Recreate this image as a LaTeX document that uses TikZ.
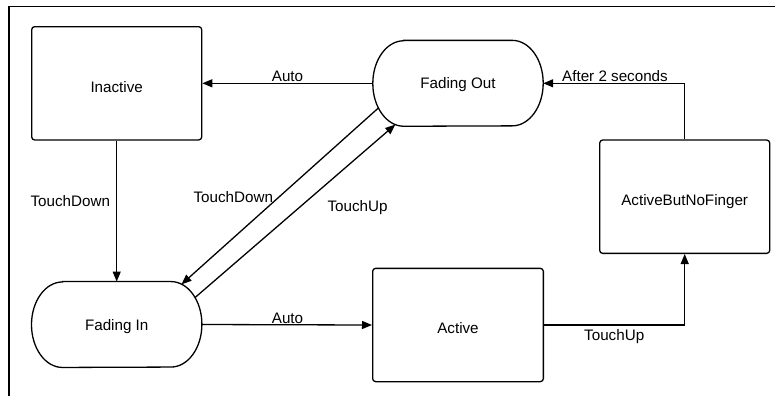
\documentclass[tikz,border=0pt]{standalone}
\usepackage{fontspec}
\setmainfont{Liberation Sans}
\usetikzlibrary{arrows.meta,calc}

\tikzset{
  line/.style={line width=1.3bp, draw=black},
  arr/.style={line, -{Triangle[length=10bp,width=8bp]}},
  statebox/.style={line, rectangle, rounded corners=3bp, minimum width=170bp,
    minimum height=113.3bp, inner sep=0pt, text height=17.6bp, text depth=0pt},
  termbox/.style={rectangle, draw=none, minimum width=170bp, minimum height=85.5bp,
    inner sep=0pt, text height=11bp, text depth=0pt},
  lbl/.style={anchor=base, inner sep=0pt},
}

% outline of a terminator: straight top and bottom, half-elliptical ends
\newcommand{\terminator}[1]{%
  \draw[line] ([xshift=31bp]#1.north west) -- ([xshift=-31bp]#1.north east)
    arc[start angle=90, end angle=-90, x radius=31bp, y radius=42.75bp]
    -- ([xshift=31bp]#1.south west)
    arc[start angle=270, end angle=90, x radius=31bp, y radius=42.75bp] -- cycle;}

\begin{document}
\begin{tikzpicture}[x=1bp, y=-1bp, font=\fontsize{15.2bp}{18bp}\selectfont]
\useasboundingbox (0,0) rectangle (775,396);

% frame
\draw[line] (9,396) -- (9,6.7) -- (775,6.7);

% states
\node[statebox] (inactive) at (116.7,83.3) {Inactive};
\node[termbox] (fout) at (458,83.3) {Fading Out};
\node[statebox] (abnf) at (684.7,196.7) {ActiveButNoFinger};
\node[termbox] (fin) at (116.7,324.5) {Fading In};
\node[statebox, minimum width=170.7bp] (active) at (458,325) {Active};
\terminator{fout}
\terminator{fin}

% ellipse centres of the rounded ends used by the slanted transitions
\coordinate (finR) at ([xshift=-31bp]fin.east);
\coordinate (foutL) at ([xshift=31bp]fout.west);

% transitions
\draw[arr] (fout.west) -- (inactive.east);
\draw[arr] (inactive.south) -- (fin.north -| inactive.south);
\draw[arr] (fin.east) -- (active.west);
\draw[arr] (active.east) -| (abnf.south);
\draw[arr] (abnf.north) |- (fout.east);
\draw[arr] ($(foutL)+(215:31bp and 43bp)$) -- ($(finR)+(70:31bp and 42.75bp)$);
\draw[arr] ($(finR)+(39:31bp and 42.75bp)$) -- ($(foutL)+(254:31bp and 43bp)$);

% labels
\node[lbl] (lAuto1) at (287.5,81.5) {Auto};
\node[lbl] (lAfter) at (615,81.5) {After 2 seconds};
\node[lbl] (lTD1) at (70.3,206.5) {TouchDown};
\node[lbl] (lTD2) at (233.3,202.5) {TouchDown};
\node[lbl] (lTU1) at (357.5,211) {TouchUp};
\node[lbl] (lAuto2) at (287.5,323) {Auto};
\node[lbl] (lTU2) at (614.2,340.7) {TouchUp};
\end{tikzpicture}
\end{document}
